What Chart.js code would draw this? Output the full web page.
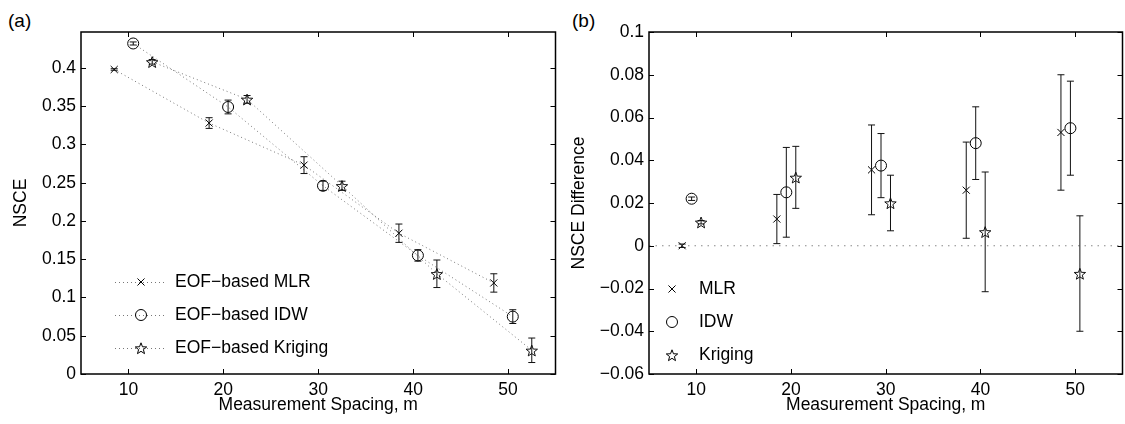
<!DOCTYPE html>
<html>
<head>
<meta charset="utf-8">
<script src="https://cdn.jsdelivr.net/npm/chart.js@4.4.1/dist/chart.umd.min.js"></script>
<style>
  body { margin: 0; width: 1125px; height: 424px; overflow: hidden; background: #fff; position: relative; font-family: "Liberation Sans", Arial, sans-serif; }
  #wrapA { position: absolute; left: 0; top: 0; width: 562px; height: 424px; }
  #wrapB { position: absolute; left: 562px; top: 0; width: 567px; height: 424px; }
  .panel { position: absolute; font-size: 19px; color: #000; line-height: 20px; }
</style>
</head>
<body>
<div class="panel" style="left:8px;top:11px">(a)</div>
<div class="panel" style="left:572px;top:11px">(b)</div>
<div id="wrapA"><canvas id="chartA" width="562" height="424"></canvas></div>
<div id="wrapB"><canvas id="chartB" width="567" height="424"></canvas></div>

<script>
// ---- data ----
const xTicks = [10, 20, 30, 40, 50];
const yTicksA = [0, 0.05, 0.1, 0.15, 0.2, 0.25, 0.3, 0.35, 0.4];
const yLabelsA = ['0', '0.05', '0.1', '0.15', '0.2', '0.25', '0.3', '0.35', '0.4'];
const yTicksB = [-0.06, -0.04, -0.02, 0, 0.02, 0.04, 0.06, 0.08, 0.1];
const yLabelsB = ['\u22120.06', '\u22120.04', '\u22120.02', '0', '0.02', '0.04', '0.06', '0.08', '0.1'];

// panel (a): NSCE
const spacingMLR_A = [8.5, 18.5, 28.5, 38.5, 48.5];
const spacingIDW_A = [10.5, 20.5, 30.5, 40.5, 50.5];
const spacingKrig_A = [12.5, 22.5, 32.5, 42.5, 52.5];
const nsceMLR = [0.398, 0.328, 0.273, 0.184, 0.119];
const nsceIDW = [0.432, 0.349, 0.246, 0.155, 0.075];
const nsceKrig = [0.408, 0.359, 0.246, 0.131, 0.031];
const errMLR_A = [0.001, 0.007, 0.011, 0.012, 0.012];
const errIDW_A = [0.002, 0.009, 0.006, 0.0075, 0.009];
const errKrig_A = [0.003, 0.005, 0.006, 0.018, 0.016];

// panel (b): NSCE difference
const spacingMLR_B = [8.5, 18.5, 28.5, 38.5, 48.5];
const spacingIDW_B = [9.5, 19.5, 29.5, 39.5, 49.5];
const spacingKrig_B = [10.5, 20.5, 30.5, 40.5, 50.5];
const diffMLR = [0, 0.0125, 0.0355, 0.026, 0.053];
const diffIDW = [0.022, 0.025, 0.0375, 0.048, 0.055];
const diffKrig = [0.011, 0.032, 0.020, 0.0065, -0.013];
const errMLR_B = [0.0008, 0.0115, 0.021, 0.0225, 0.027];
const errIDW_B = [0.0008, 0.021, 0.015, 0.017, 0.022];
const errKrig_B = [0.0008, 0.0145, 0.013, 0.028, 0.027];

const legendA = ['EOF\u2212based MLR', 'EOF\u2212based IDW', 'EOF\u2212based Kriging'];
const legendB = ['MLR', 'IDW', 'Kriging'];

const font = { family: '"Liberation Sans", Arial, sans-serif', size: 17.5 };

function pts(xs, ys) {
  return xs.map((x, i) => ({ x: x, y: ys[i] }));
}

// five pointed star outline (matlab 'p' marker)
function starPath(ctx, cx, cy, rOut, rIn) {
  ctx.beginPath();
  for (let i = 0; i < 10; i++) {
    const r = i % 2 ? rIn : rOut;
    const a = -Math.PI / 2 + i * Math.PI / 5;
    const px = cx + r * Math.cos(a);
    const py = cy + 0.8 + r * Math.sin(a);
    if (i === 0) ctx.moveTo(px, py); else ctx.lineTo(px, py);
  }
  ctx.closePath();
  ctx.stroke();
}

// inward ticks + box, like matlab axes
const boxTicks = {
  id: 'boxTicks',
  afterDatasetsDraw(chart) {
    const { ctx, chartArea: a, scales } = chart;
    const len = 5;
    ctx.save();
    ctx.strokeStyle = '#000';
    ctx.lineWidth = 1;
    ctx.beginPath();
    scales.x.ticks.forEach(t => {
      const px = Math.round(scales.x.getPixelForValue(t.value)) + 0.5;
      ctx.moveTo(px, a.bottom); ctx.lineTo(px, a.bottom - len);
      ctx.moveTo(px, a.top); ctx.lineTo(px, a.top + len);
    });
    scales.y.ticks.forEach(t => {
      const py = Math.round(scales.y.getPixelForValue(t.value)) + 0.5;
      ctx.moveTo(a.left, py); ctx.lineTo(a.left + len, py);
      ctx.moveTo(a.right, py); ctx.lineTo(a.right - len, py);
    });
    ctx.stroke();
    ctx.lineWidth = 1.5;
    ctx.strokeRect(a.left, a.top, a.right - a.left, a.bottom - a.top);
    ctx.restore();
  }
};

// vertical error bars with caps, plus star markers
const errorBars = {
  id: 'errorBars',
  afterDatasetsDraw(chart) {
    const { ctx, scales } = chart;
    const cap = 3.5;
    ctx.save();
    ctx.strokeStyle = '#111';
    ctx.lineWidth = 1;
    chart.data.datasets.forEach(ds => {
      ds.data.forEach((p, i) => {
        const px = scales.x.getPixelForValue(p.x);
        const py = scales.y.getPixelForValue(p.y);
        if (ds.star) starPath(ctx, px, py, 6, 2.5);
        if (!ds.errors) return;
        const e = ds.errors[i];
        const y1 = scales.y.getPixelForValue(p.y - e);
        const y2 = scales.y.getPixelForValue(p.y + e);
        ctx.beginPath();
        ctx.moveTo(px, y1); ctx.lineTo(px, y2);
        ctx.moveTo(px - cap, y1); ctx.lineTo(px + cap, y1);
        ctx.moveTo(px - cap, y2); ctx.lineTo(px + cap, y2);
        ctx.stroke();
      });
    });
    ctx.restore();
  }
};

// legend without a box: line sample + marker + label
const matLegend = {
  id: 'matLegend',
  afterDraw(chart, args, opts) {
    const { ctx } = chart;
    ctx.save();
    ctx.font = font.size + 'px ' + font.family;
    ctx.textBaseline = 'middle';
    const sets = chart.data.datasets.filter(d => d.label);
    sets.forEach((ds, i) => {
      const y = opts.rows[i];
      if (opts.line) {
        ctx.save();
        ctx.strokeStyle = ds.borderColor;
        ctx.lineWidth = 1;
        ctx.setLineDash(ds.borderDash);
        ctx.beginPath();
        ctx.moveTo(opts.x1, y + 0.5); ctx.lineTo(opts.x2, y + 0.5);
        ctx.stroke();
        ctx.restore();
      }
      ctx.strokeStyle = '#000';
      ctx.fillStyle = 'rgba(0,0,0,0)';
      ctx.lineWidth = 1;
      if (ds.star) {
        starPath(ctx, opts.xm, y, 6, 2.5);
      } else {
        Chart.helpers.drawPoint(ctx, { pointStyle: ds.pointStyle, radius: ds.pointRadius, rotation: 0, borderWidth: 1 }, opts.xm, y);
      }
      ctx.fillStyle = '#000';
      ctx.fillText(ds.label, opts.xt, y);
    });
    ctx.restore();
  }
};

function markerSet(label, data, errors, style, radius, line) {
  return {
    label: label,
    data: data,
    errors: errors,
    star: style === 'star5',
    showLine: line,
    borderColor: '#777',
    borderWidth: 1,
    borderDash: [1, 3],
    pointStyle: style === 'star5' ? 'circle' : style,
    pointRadius: style === 'star5' ? 0 : radius,
    pointBorderColor: '#000',
    pointBackgroundColor: 'rgba(0,0,0,0)',
    pointBorderWidth: 1
  };
}

function axes(yMin, yMax, yTicks, yLabels, yTitle, yWidth, titlePad) {
  return {
    x: {
      type: 'linear', min: 5, max: 55,
      afterBuildTicks: s => { s.ticks = xTicks.map(v => ({ value: v })); },
      afterFit: s => { s.height = 50; },
      grid: { display: false, drawTicks: false },
      border: { display: false },
      ticks: { color: '#000', font: font, padding: 6, maxRotation: 0, autoSkip: false },
      title: { display: true, text: 'Measurement Spacing, m', color: '#000', font: font, padding: { top: 0, bottom: 8 } }
    },
    y: {
      type: 'linear', min: yMin, max: yMax,
      afterBuildTicks: s => { s.ticks = yTicks.map(v => ({ value: v })); },
      afterFit: s => { s.width = yWidth; },
      grid: { display: false, drawTicks: false },
      border: { display: false },
      ticks: { color: '#000', font: font, padding: 5, callback: v => yLabels[yTicks.indexOf(v)] },
      title: { display: true, text: yTitle, color: '#000', font: font, padding: { top: titlePad, bottom: 0 } }
    }
  };
}

new Chart(document.getElementById('chartA'), {
  type: 'scatter',
  data: {
    datasets: [
      markerSet(legendA[0], pts(spacingMLR_A, nsceMLR), errMLR_A, 'crossRot', 5, true),
      markerSet(legendA[1], pts(spacingIDW_A, nsceIDW), errIDW_A, 'circle', 5.5, true),
      markerSet(legendA[2], pts(spacingKrig_A, nsceKrig), errKrig_A, 'star5', 6, true)
    ]
  },
  options: {
    responsive: false,
    animation: false,
    layout: { padding: { left: 0, top: 32, right: 1, bottom: 0 } },
    scales: axes(0, 0.447, yTicksA, yLabelsA, 'NSCE', 81, 11),
    plugins: {
      legend: { display: false },
      tooltip: { enabled: false },
      matLegend: { line: true, x1: 115, x2: 165, xm: 141, xt: 175, rows: [282, 315, 348] }
    }
  },
  plugins: [errorBars, boxTicks, matLegend]
});

const zeroLine = {
  data: [{ x: 5, y: 0 }, { x: 55, y: 0 }],
  showLine: true,
  borderColor: '#888',
  borderWidth: 1,
  borderDash: [1.5, 5],
  pointRadius: 0
};

new Chart(document.getElementById('chartB'), {
  type: 'scatter',
  data: {
    datasets: [
      zeroLine,
      markerSet(legendB[0], pts(spacingMLR_B, diffMLR), errMLR_B, 'crossRot', 5, false),
      markerSet(legendB[1], pts(spacingIDW_B, diffIDW), errIDW_B, 'circle', 5.5, false),
      markerSet(legendB[2], pts(spacingKrig_B, diffKrig), errKrig_B, 'star5', 6, false)
    ]
  },
  options: {
    responsive: false,
    animation: false,
    layout: { padding: { left: 0, top: 32, right: 0, bottom: 0 } },
    scales: axes(-0.06, 0.1, yTicksB, yLabelsB, 'NSCE Difference', 87, 7),
    plugins: {
      legend: { display: false },
      tooltip: { enabled: false },
      matLegend: { line: false, xm: 110, xt: 137, rows: [289, 322, 355] }
    }
  },
  plugins: [errorBars, boxTicks, matLegend]
});
</script>
</body>
</html>
